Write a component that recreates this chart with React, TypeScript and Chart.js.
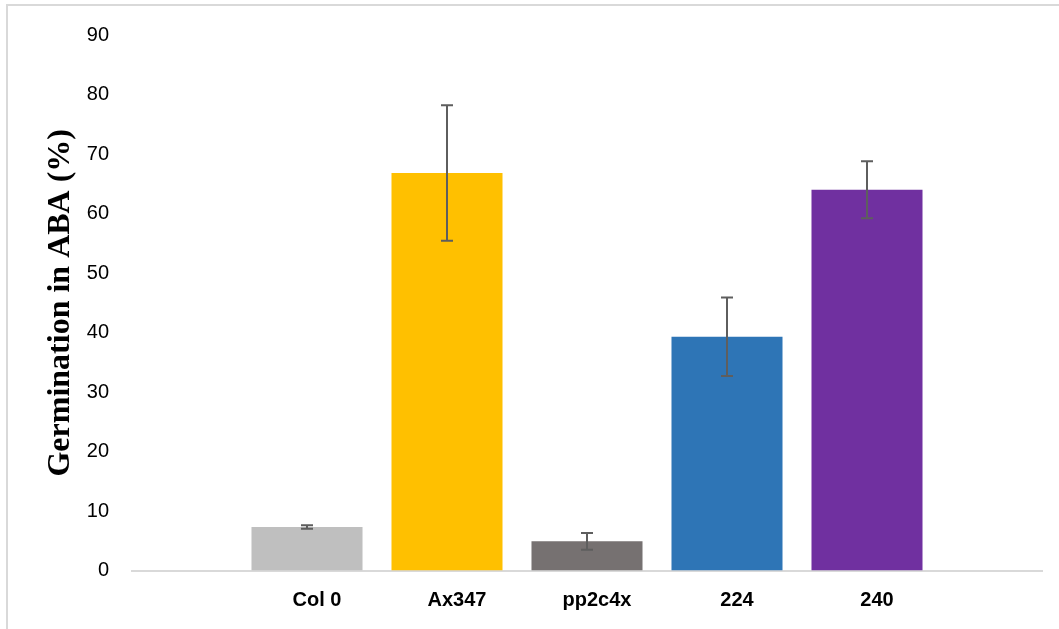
import React, { useEffect, useRef } from "react";
import { Chart, registerables } from "chart.js";

Chart.register(...registerables);

const categories = ["Col 0", "Ax347", "pp2c4x", "224", "240"];
const germination = [7.3, 66.8, 4.9, 39.3, 64.0];
const errors = [0.3, 11.4, 1.4, 6.6, 4.8];
const barColors = ["#BFBFBF", "#FFC000", "#767171", "#2E75B6", "#7030A0"];
const yMin = 0;
const yMax = 90;
const yStep = 10;
const yTitle = "Germination in ABA (%)";

const errorBarPlugin = {
  id: "errorBars",
  afterDatasetsDraw(chart: any) {
    const meta = chart.getDatasetMeta(0);
    const y = chart.scales.y;
    const ctx = chart.ctx;
    ctx.save();
    ctx.strokeStyle = "#5E5E5E";
    ctx.lineWidth = 2;
    meta.data.forEach((bar: any, i: number) => {
      const v = germination[i];
      const e = errors[i];
      const top = y.getPixelForValue(v + e);
      const bot = y.getPixelForValue(v - e);
      const x = bar.x;
      const cap = 6;
      ctx.beginPath();
      ctx.moveTo(x, top);
      ctx.lineTo(x, bot);
      ctx.moveTo(x - cap, top);
      ctx.lineTo(x + cap, top);
      ctx.moveTo(x - cap, bot);
      ctx.lineTo(x + cap, bot);
      ctx.stroke();
    });
    ctx.restore();
  },
};

export default function App() {
  const canvasRef = useRef<HTMLCanvasElement | null>(null);

  useEffect(() => {
    if (!canvasRef.current) return;
    const chart = new Chart(canvasRef.current, {
      type: "bar",
      data: {
        datasets: [
          {
            data: categories.map((_, i) => ({ x: i + 1, y: germination[i] })),
            backgroundColor: barColors,
            borderWidth: 0,
            categoryPercentage: 1,
            barPercentage: 0.793,
          },
        ],
      },
      options: {
        responsive: false,
        animation: false,
        devicePixelRatio: 1,
        layout: { padding: { left: 38, right: 17, top: 33, bottom: 0 } },
        plugins: {
          legend: { display: false },
          tooltip: { enabled: false },
        },
        scales: {
          x: {
            type: "linear",
            bounds: "data",
            offset: false,
            min: -0.25,
            max: categories.length + 1.25,
            afterBuildTicks: (axis: any) => {
              axis.ticks = categories.map((_, i) => ({ value: i + 1 }));
            },
            afterFit: (scale: any) => {
              scale.height = 58.5;
            },
            grid: { display: false, drawTicks: false, offset: false },
            border: { display: true, color: "#D9D9D9", width: 2 },
            ticks: {
              autoSkip: false,
              maxRotation: 0,
              padding: 18,
              labelOffset: 10,
              color: "#000000",
              font: { family: "'Liberation Sans', Arial, sans-serif", size: 20, weight: "bold" },
              callback: (value: any) => categories[Math.round(Number(value)) - 1] ?? "",
            },
          },
          y: {
            min: yMin,
            max: yMax,
            afterFit: (scale: any) => {
              scale.width = 94;
            },
            grid: { display: false, drawTicks: false },
            border: { display: false },
            ticks: {
              stepSize: yStep,
              padding: 23,
              color: "#000000",
              font: { family: "'Liberation Sans', Arial, sans-serif", size: 20 },
            },
            title: {
              display: true,
              text: yTitle,
              color: "#000000",
              padding: { top: 4, bottom: 4 },
              font: { family: "'Liberation Serif', 'Times New Roman', serif", size: 32, weight: "bold" },
            },
          },
        },
      },
      plugins: [errorBarPlugin],
    } as any);
    return () => chart.destroy();
  }, []);

  return (
    <div
      style={{
        position: "fixed",
        left: 0,
        top: 0,
        width: 1059,
        height: 629,
        overflow: "hidden",
        background: "#FFFFFF",
      }}
    >
      <div
        style={{
          position: "absolute",
          left: 6,
          top: 4,
          width: 1200,
          height: 800,
          borderLeft: "2px solid #D9D9D9",
          borderTop: "2px solid #D9D9D9",
        }}
      />
      <canvas
        ref={canvasRef}
        width={1059}
        height={629}
        style={{ position: "absolute", left: 0, top: 0, width: 1059, height: 629 }}
      />
    </div>
  );
}
